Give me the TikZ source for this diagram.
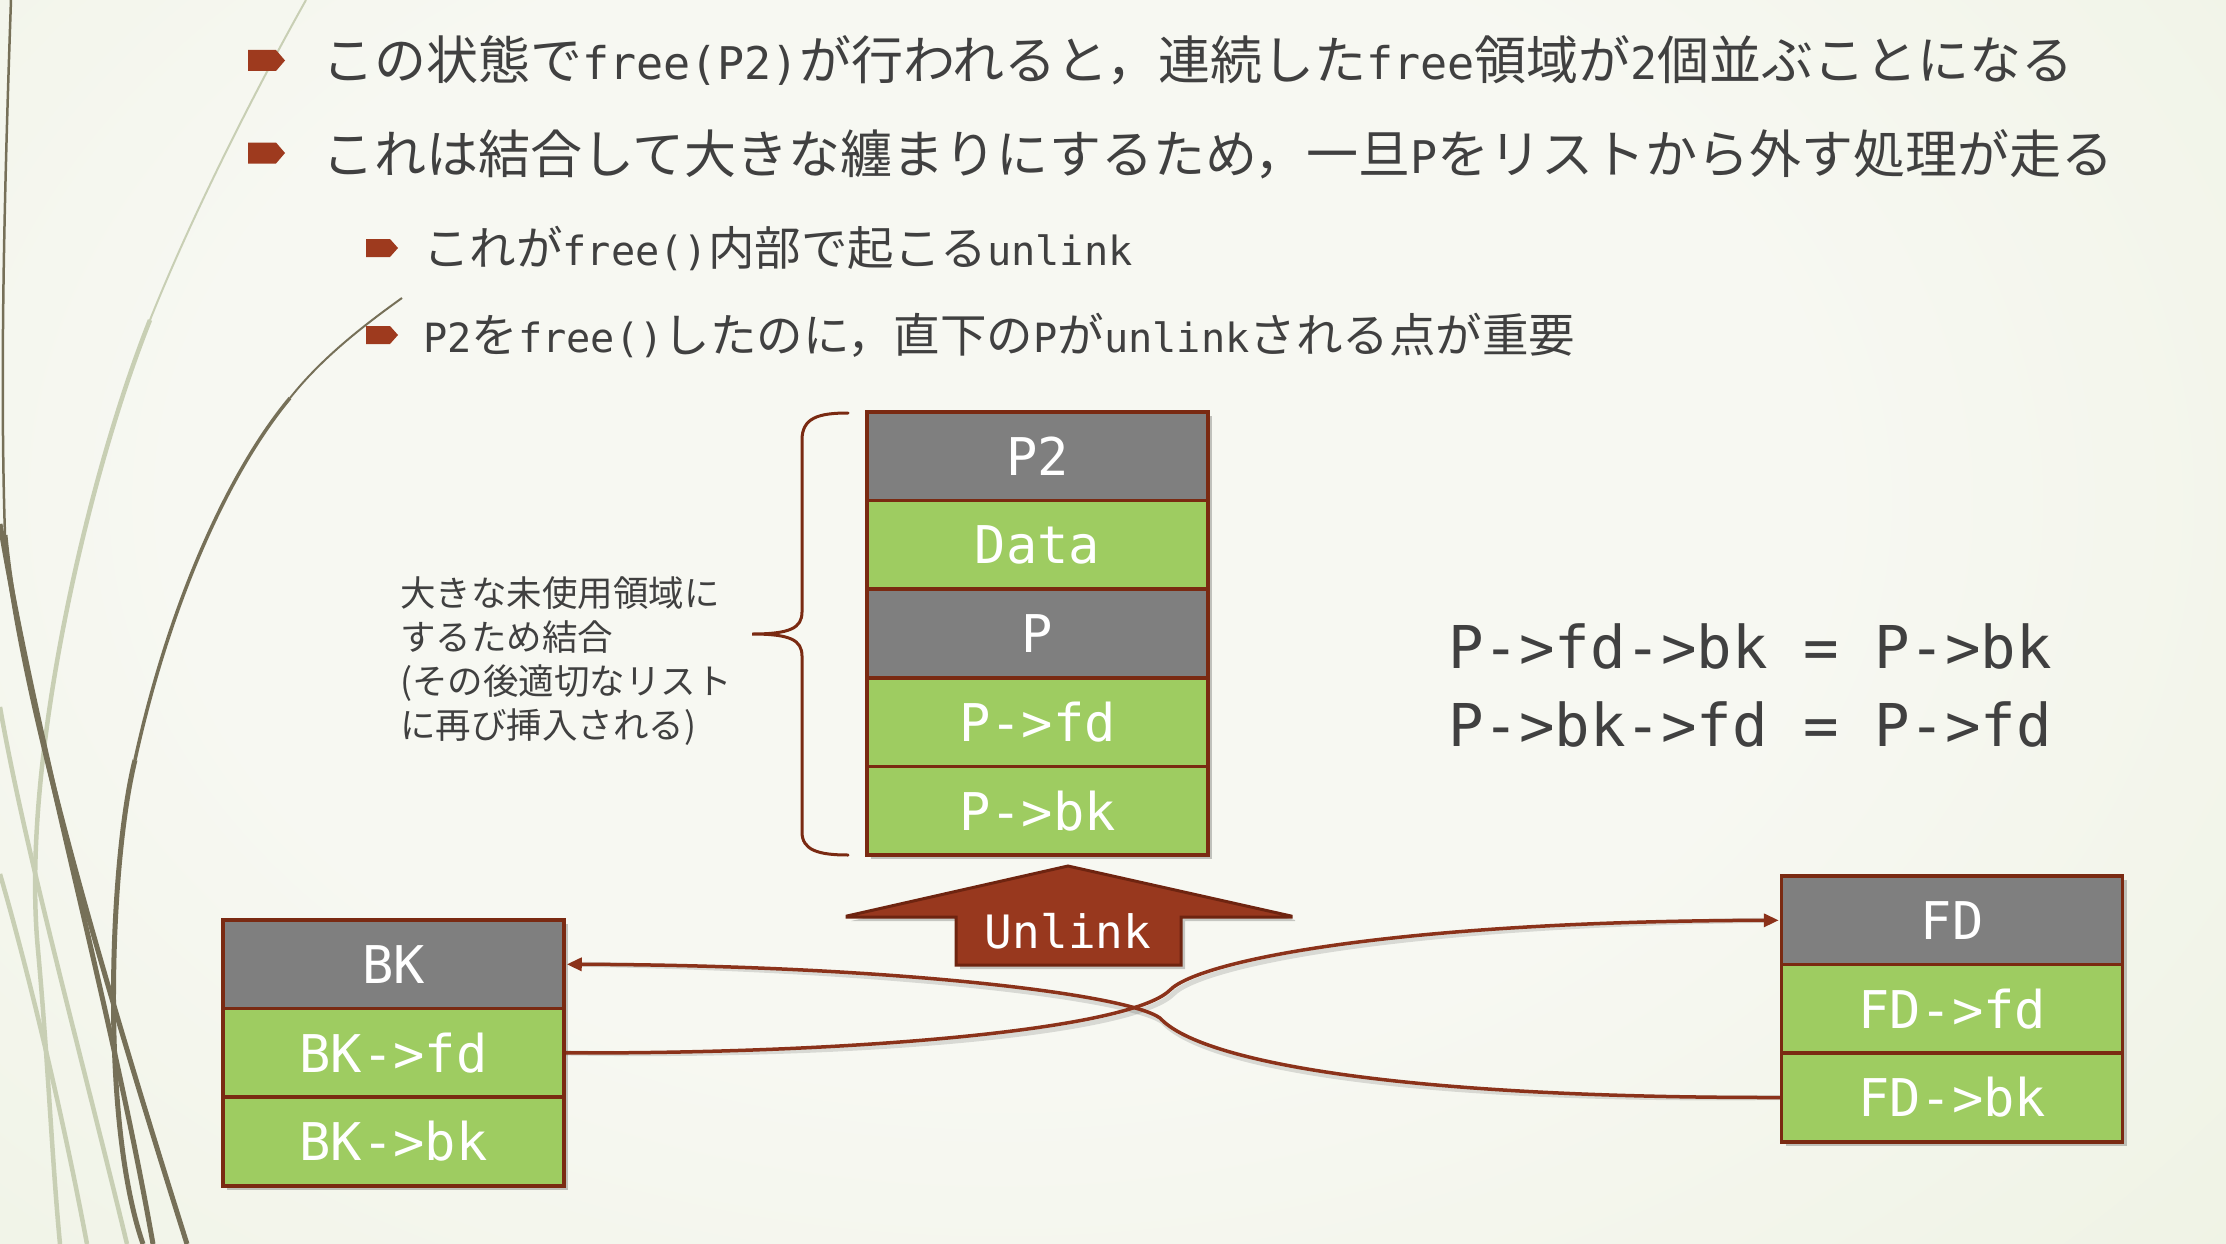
\documentclass[tikz,border=0pt]{standalone}
\usepackage{fontspec}
\setmainfont{Noto Sans CJK JP}
\newfontfamily\monof[Scale=0.866]{DejaVu Sans Mono}
\newfontfamily\boxf{DejaVu Sans Mono}
\newcommand\mn[1]{{\monof #1}}
\usetikzlibrary{arrows.meta,shadows}
\definecolor{txt}{RGB}{64,64,64}
\definecolor{rust}{RGB}{158,58,30}
\definecolor{edge}{RGB}{122,42,18}
\definecolor{greyc}{RGB}{127,127,127}
\definecolor{greenc}{RGB}{158,204,97}
\definecolor{arrowc}{RGB}{152,56,30}
\definecolor{arrowedge}{RGB}{110,36,16}
\definecolor{linec}{RGB}{139,50,26}
\definecolor{olive}{RGB}{118,112,88}
\definecolor{pale}{RGB}{200,207,180}
\definecolor{bgA}{RGB}{222,232,198}
\definecolor{bgB}{RGB}{234,239,220}
\definecolor{bgC}{RGB}{247,248,242}
\pgfdeclareradialshading{bgshade}{\pgfpoint{0bp}{0bp}}{color(0bp)=(bgC); color(12bp)=(bgC); color(32bp)=(bgB); color(50bp)=(bgA)}
\begin{document}
\begin{tikzpicture}[x=1pt,y=-1pt,
  cell/.style={draw=edge, line width=3.5pt, minimum width=341pt, minimum height=88.6pt,
    inner sep=0pt, text=white, font=\fontsize{52}{60}\boxf,
    drop shadow={shadow xshift=4pt, shadow yshift=-4pt, opacity=0.22, fill=black}},
  hdrcell/.style={cell, fill=greyc},
  datacell/.style={cell, fill=greenc},
  bigtext/.style={anchor=base west, inner sep=0pt, text=txt, font=\fontsize{52}{62}\selectfont},
  subtext/.style={anchor=base west, inner sep=0pt, text=txt, font=\fontsize{46.5}{56}\selectfont},
  notetext/.style={anchor=base west, inner sep=0pt, text=txt, font=\fontsize{35.5}{44}\selectfont},
  formula/.style={anchor=base west, inner sep=0pt, text=txt, font=\fontsize{59}{70}\boxf},
  conn/.style={draw=linec, line width=3.5pt},
  connshadow/.style={draw=black, opacity=0.12, line width=5pt},
  deco/.style={draw=olive, line width=5pt},
  decolight/.style={draw=pale, line width=4.5pt},
  bulletpic/.pic={\fill[rust] (-18.5,-10.5) -- (9.5,-10.5) -- (18.5,0) -- (9.5,10.5) -- (-18.5,10.5) -- cycle;},
  subbulletpic/.pic={\fill[rust] (-16,-9) -- (8,-9) -- (16,0) -- (8,9) -- (-16,9) -- cycle;}
]
\useasboundingbox (0,0) rectangle (2226,1244);
% background
\begin{scope}
\clip (0,0) rectangle (2226,1244);
\shade[shading=bgshade] (-700,-700) rectangle (2700,1700);
% decorative curves
\draw[decolight, line width=2pt] (306,0) .. controls (250,100) and (190,220) .. (150,320);
\draw[decolight] (150,320) .. controls (90,470) and (20,760) .. (38,950) .. controls (48,1060) and (52,1160) .. (60,1244);
\draw[decolight] (0,707) .. controls (25,850) and (80,1050) .. (127,1244);
\draw[decolight] (0,874) .. controls (25,960) and (60,1100) .. (87,1244);
\draw[deco, line width=2.5pt] (11,0) .. controls (4,200) and (0,380) .. (5,535);
\draw[deco] (5,535) .. controls (20,700) and (110,1000) .. (187,1244);
\draw[deco] (0,524) .. controls (40,760) and (110,1000) .. (153,1244);
\draw[deco, line width=2pt] (402,298) .. controls (360,328) and (320,360) .. (290,398);
\draw[deco, line width=3.5pt] (290,398) .. controls (230,470) and (170,600) .. (135,760);
\draw[deco] (135,760) .. controls (110,860) and (100,1120) .. (143,1244);
\end{scope}
% bullets and text
\pic at (266.5,60.5) {bulletpic};
\pic at (266.5,153) {bulletpic};
\pic at (382,248) {subbulletpic};
\pic at (382,335) {subbulletpic};
\node[bigtext] (t1) at (322,80) {この状態で\mn{free(P2)}が行われると，連続した\mn{free}領域が\mn{2}個並ぶことになる};
\node[bigtext] (t2) at (322,173) {これは結合して大きな纏まりにするため，一旦\mn{P}をリストから外す処理が走る};
\node[subtext] (t3) at (423,265) {これが\mn{free()}内部で起こる\mn{unlink}};
\node[subtext] (t4) at (423,352) {\mn{P2}を\mn{free()}したのに，直下の\mn{P}が\mn{unlink}される点が重要};
% central stack
\node[hdrcell] (p2) at (1037.5,456.3) {P2};
\node[datacell] (data) at (1037.5,544.9) {Data};
\node[hdrcell] (p) at (1037.5,633.5) {P};
\node[datacell] (pfd) at (1037.5,722.1) {P->fd};
\node[datacell] (pbk) at (1037.5,810.7) {P->bk};
% brace
\draw[draw=edge, line width=3pt, line cap=round]
  (848,413) .. controls (818,413) and (802,418) .. (802,440) -- (802,612)
  .. controls (802,628) and (790,634) .. (752,634)
  .. controls (790,634) and (802,640) .. (802,656) -- (802,832)
  .. controls (802,850) and (818,855) .. (848,855);
% note text
\node[notetext] (n1) at (400,606) {大きな未使用領域に};
\node[notetext] (n2) at (400,650) {するため結合};
\node[notetext] (n3) at (400,694) {(その後適切なリスト};
\node[notetext] (n4) at (400,738) {に再び挿入される)};
% formula
\node[formula] (f1) at (1448,668) {P->fd->bk = P->bk};
\node[formula] (f2) at (1448,746) {P->bk->fd = P->fd};
% unlink arrow
\fill[black, opacity=0.2] (1072,870) -- ++(223,50) -- ++(0,1) -- ++(-110,0) -- ++(0,48) -- ++(-225,0) -- ++(0,-48) -- ++(-109,0) -- cycle;
\filldraw[fill=arrowc, draw=arrowedge, line width=3pt, line join=miter]
  (1068,866) -- (1291,916) -- (1291,917) -- (1181,917) -- (1181,965) -- (956,965) -- (956,917) -- (847,917) -- (847,916) -- cycle;
\node[text=white, font=\fontsize{46}{54}\boxf, inner sep=0pt] (unlink) at (1068,931) {Unlink};
% BK box
\node[hdrcell] (bk) at (393.5,964.3) {BK};
\node[datacell] (bkfd) at (393.5,1052.9) {BK->fd};
\node[datacell] (bkbk) at (393.5,1141.5) {BK->bk};
% FD box
\node[hdrcell] (fd) at (1952,920.3) {FD};
\node[datacell] (fdfd) at (1952,1008.9) {FD->fd};
\node[datacell] (fdbk) at (1952,1097.5) {FD->bk};
% connector shadows
\begin{scope}[shift={(3,4)}]
\draw[connshadow] (bkfd.east) .. controls (850,1054) and (1130,1030) .. (1170,990)
  .. controls (1200,960) and (1400,921) .. ([xshift=-14pt]fd.west);
\draw[connshadow] (fdbk.west) .. controls (1400,1098) and (1200,1062) .. (1160,1018)
  .. controls (1125,993) and (880,965) .. ([xshift=14pt]bk.east);
\end{scope}
% connectors
\draw[conn, -{Triangle[length=15pt,width=13pt]}, shorten >=1pt]
  (bkfd.east) .. controls (850,1054) and (1130,1030) .. (1170,990)
  .. controls (1200,960) and (1400,921) .. (fd.west);
\draw[conn, -{Triangle[length=15pt,width=13pt]}, shorten >=1pt]
  (fdbk.west) .. controls (1400,1098) and (1200,1062) .. (1160,1018)
  .. controls (1125,993) and (880,965) .. (bk.east);
\end{tikzpicture}
\end{document}
